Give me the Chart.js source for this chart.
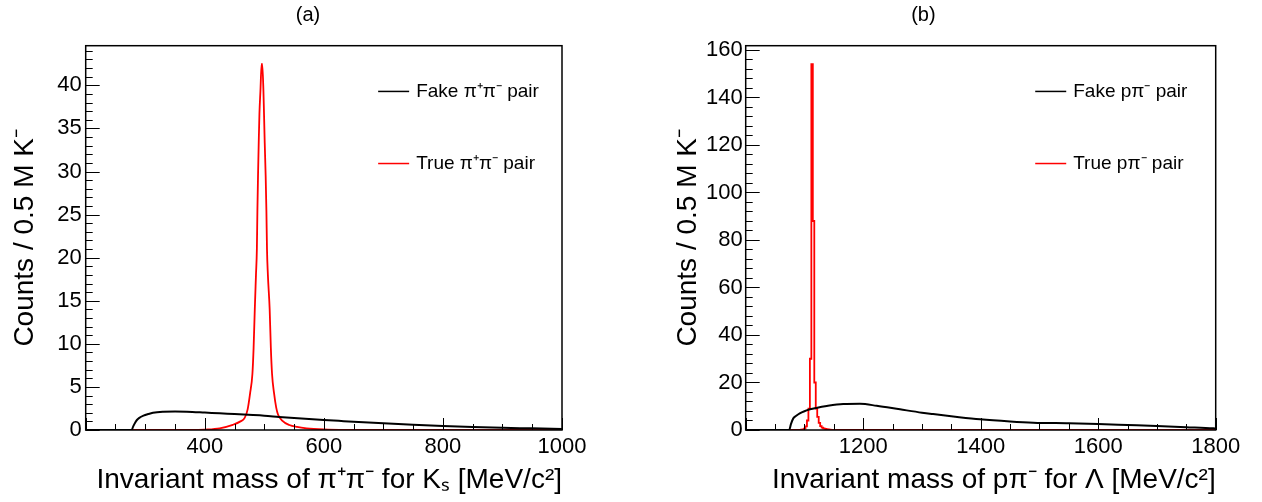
<!DOCTYPE html>
<html>
<head>
<meta charset="utf-8">
<script src="https://cdn.jsdelivr.net/npm/chart.js@4.4.1/dist/chart.umd.min.js"></script>
<style>
  body { margin: 0; background: #fff; }
  #wrap { position: relative; width: 1262px; height: 502px; }
  canvas { position: absolute; top: 0; }
</style>
</head>
<body>
<div id="wrap">
  <canvas id="chartA" width="631" height="502" style="left:0"></canvas>
  <canvas id="chartB" width="631" height="502" style="left:631px"></canvas>
</div>
<script>
// (a) K_s -> pi+ pi-
const fakeMassA = [200, 277, 280, 283, 286, 290, 297, 305, 313, 330, 350, 370, 400, 425, 450, 481, 500, 525, 550, 575, 600, 625, 650, 700, 750, 800, 850, 900, 950, 1000];
const fakeCountsA = [0, 0, 0.45, 0.85, 1.16, 1.4, 1.66, 1.85, 2.0, 2.12, 2.15, 2.12, 2.02, 1.93, 1.85, 1.74, 1.66, 1.52, 1.39, 1.27, 1.16, 1.06, 0.96, 0.77, 0.6, 0.46, 0.34, 0.25, 0.19, 0.12];
const trueMassA = [200, 380, 400, 425, 447, 460, 467, 472, 476, 480, 482, 484, 486, 487.5, 488.4, 489.4, 490.6, 491.8, 493.5, 495.5, 496.5, 498.5, 499.5, 500.7, 502.3, 503.5, 504.5, 506, 509, 511, 513, 516.3, 520, 523, 530, 542, 555, 571, 600, 640, 700, 1000];
const trueCountsA = [0, 0, 0.05, 0.2, 0.6, 1.0, 1.4, 2.4, 4.2, 6.5, 9.5, 14, 18, 21, 25.5, 29.4, 33.3, 36.7, 39.4, 42.5, 42.5, 39.4, 36.7, 33.3, 29.4, 25.5, 21, 18, 14, 9.5, 6.5, 4.3, 2.6, 1.8, 1.1, 0.58, 0.35, 0.2, 0.08, 0.02, 0, 0];
const xTicksA = [400, 600, 800, 1000];
const yTicksA = [0, 5, 10, 15, 20, 25, 30, 35, 40];

// (b) Lambda -> p pi-
const fakeMassB = [1000, 1074, 1077, 1081, 1086, 1092, 1100, 1109.5, 1120, 1138, 1166, 1194.5, 1223, 1262.6, 1300, 1319, 1360, 1398.8, 1450, 1489.5, 1550, 1600, 1650, 1699.6, 1750, 1796, 1800];
const fakeCountsB = [0, 0, 2.5, 4.9, 6.0, 7.0, 7.9, 8.7, 9.3, 10.1, 10.9, 11.0, 10.2, 8.7, 7.3, 6.7, 5.5, 4.5, 3.6, 3.1, 2.8, 2.5, 2.1, 1.7, 1.2, 0.7, 0.6];
const trueMassB = [1000, 1093, 1095.5, 1098, 1100.5, 1103, 1105.5, 1108, 1110.5, 1113, 1115.5, 1118, 1120.5, 1123, 1125.5, 1128, 1130.5, 1133, 1135.5, 1138, 1140.5, 1143, 1146, 1800];
const trueCountsB = [0, 0, 0.1, 0.3, 0.6, 1.5, 4, 9, 30, 154, 88, 20, 9, 5.5, 3, 1.6, 1.0, 0.7, 0.5, 0.35, 0.25, 0.15, 0, 0];
const xTicksB = [1200, 1400, 1600, 1800];
const yTicksB = [0, 20, 40, 60, 80, 100, 120, 140, 160];

const FONT = "'Liberation Sans', Arial, Helvetica, sans-serif";
Chart.defaults.font.family = FONT;
Chart.defaults.color = '#000';

function pts(xs, ys) {
  return xs.map((x, i) => ({ x: x, y: ys[i] }));
}

// ROOT-like frame: inward ticks, box and the legend
const rootFrame = {
  id: 'rootFrame',
  afterDatasetsDraw(chart, args, o) {
    const { ctx, chartArea: a } = chart;
    const x = chart.scales.x, y = chart.scales.y;
    ctx.save();
    ctx.strokeStyle = '#000';
    ctx.lineWidth = 1;
    ctx.beginPath();
    for (let v = x.min; v <= x.max + 1e-6; v += o.xMinor) {
      const px = Math.round(x.getPixelForValue(v)) + 0.5;
      const len = v % o.xMajor === 0 ? 12 : 6;
      ctx.moveTo(px, a.bottom);
      ctx.lineTo(px, a.bottom - len);
    }
    for (let v = y.min; v <= y.max + 1e-6; v += o.yMinor) {
      const py = Math.round(y.getPixelForValue(v)) + 0.5;
      const len = v % o.yMajor === 0 ? 14 : 7;
      ctx.moveTo(a.left, py);
      ctx.lineTo(a.left + len, py);
    }
    ctx.stroke();
    ctx.lineWidth = 1.5;
    ctx.strokeRect(a.left, a.top, a.right - a.left, a.bottom - a.top);

    ctx.font = '19px ' + FONT;
    ctx.textBaseline = 'middle';
    ctx.textAlign = 'left';
    chart.data.datasets.forEach((ds, i) => {
      const lx = a.left + o.legendX * (a.right - a.left);
      const ly = a.top + o.legendY[i] * (a.bottom - a.top);
      ctx.strokeStyle = ds.borderColor;
      ctx.lineWidth = 1.5;
      ctx.beginPath();
      ctx.moveTo(lx, ly);
      ctx.lineTo(lx + 31, ly);
      ctx.stroke();
      ctx.fillStyle = '#000';
      ctx.fillText(ds.label, lx + 38, ly);
    });
    ctx.restore();
  }
};

function panel(id, p) {
  return new Chart(document.getElementById(id), {
    type: 'line',
    data: {
      datasets: [{
        label: p.fakeLabel,
        data: pts(p.fakeX, p.fakeY),
        borderColor: '#000000',
        borderWidth: 2,
        pointRadius: 0,
        cubicInterpolationMode: 'monotone'
      }, {
        label: p.trueLabel,
        data: pts(p.trueX, p.trueY),
        borderColor: '#ff0000',
        borderWidth: 1.8,
        pointRadius: 0,
        cubicInterpolationMode: 'monotone',
        stepped: p.stepped
      }]
    },
    options: {
      responsive: false,
      animation: false,
      layout: { padding: { left: p.padLeft, right: p.padRight, top: 0, bottom: 0 } },
      plugins: {
        legend: { display: false },
        tooltip: { enabled: false },
        title: {
          display: true,
          text: p.title,
          font: { size: 20, weight: 'normal' },
          padding: { top: 3, bottom: 18.7 }
        },
        rootFrame: p.frame
      },
      scales: {
        x: {
          type: 'linear',
          min: p.xMin,
          max: p.xMax,
          grid: { display: false, drawTicks: false },
          border: { display: false },
          ticks: {
            stepSize: 200,
            includeBounds: false,
            maxRotation: 0,
            autoSkip: false,
            padding: 4,
            font: { size: 22 },
            callback: v => p.xTicks.includes(v) ? String(v) : ''
          },
          title: {
            display: true,
            text: p.xTitle,
            align: 'end',
            font: { size: 28 },
            padding: { top: 0, bottom: 5 }
          },
          afterFit: s => { s.height = 72; }
        },
        y: {
          min: 0,
          max: p.yMax,
          grid: { display: false, drawTicks: false },
          border: { display: false },
          ticks: {
            stepSize: p.yStep,
            includeBounds: false,
            padding: p.yPad,
            font: { size: 22 },
            callback: v => p.yTicks.includes(v) ? String(v) : ''
          },
          title: {
            display: true,
            text: 'Counts / 0.5 M K\u207B',
            font: { size: 28 },
            padding: { top: p.yTitlePad, bottom: 0 }
          },
          afterFit: s => { s.width = p.yWidth; }
        }
      }
    },
    plugins: [rootFrame]
  });
}

panel('chartA', {
  title: '(a)',
  fakeLabel: 'Fake \u03C0\u207A\u03C0\u207B pair',
  trueLabel: 'True \u03C0\u207A\u03C0\u207B pair',
  fakeX: fakeMassA, fakeY: fakeCountsA,
  trueX: trueMassA, trueY: trueCountsA,
  stepped: false,
  xMin: 200, xMax: 1000, yMax: 44.6, yStep: 5,
  xTicks: xTicksA, yTicks: yTicksA,
  xTitle: 'Invariant mass of \u03C0\u207A\u03C0\u207B for K\u209B [MeV/c\u00B2]',
  padLeft: 54, padRight: 69, yWidth: 31.7, yPad: 4, yTitlePad: -45.8,
  frame: { xMinor: 50, xMajor: 200, yMinor: 1, yMajor: 5, legendX: 0.614, legendY: [0.119, 0.3066] }
});

panel('chartB', {
  title: '(b)',
  fakeLabel: 'Fake p\u03C0\u207B pair',
  trueLabel: 'True p\u03C0\u207B pair',
  fakeX: fakeMassB, fakeY: fakeCountsB,
  trueX: trueMassB, trueY: trueCountsB,
  stepped: 'middle',
  xMin: 1000, xMax: 1800, yMax: 161.8, yStep: 20,
  xTicks: xTicksB, yTicks: yTicksB,
  xTitle: 'Invariant mass of p\u03C0\u207B for \u039B [MeV/c\u00B2]',
  padLeft: 0, padRight: 46.3, yWidth: 114.7, yPad: 3, yTitlePad: 40.2,
  frame: { xMinor: 50, xMajor: 200, yMinor: 4, yMajor: 20, legendX: 0.616, legendY: [0.119, 0.3066] }
});
</script>
</body>
</html>
